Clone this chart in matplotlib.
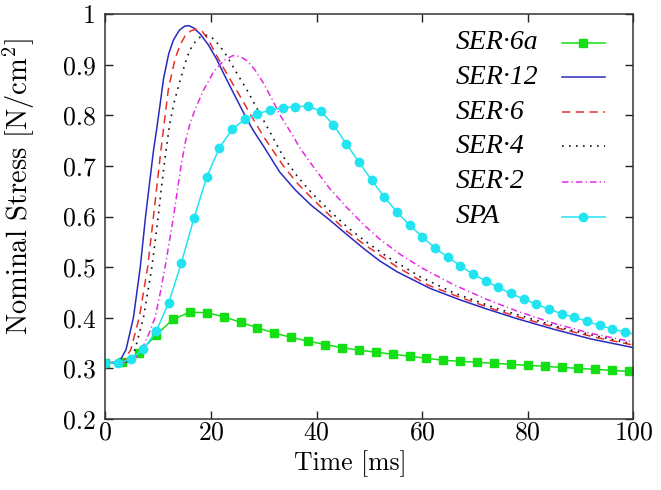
"""Nominal stress vs time — SER / SPA comparison"""

import matplotlib

matplotlib.use("Agg")

import matplotlib.pyplot as plt
from matplotlib.ticker import FormatStrFormatter

plt.rcParams["font.family"] = "cmr10"
plt.rcParams["mathtext.fontset"] = "cm"
plt.rcParams["axes.formatter.use_mathtext"] = True

# SER·12 (blue, solid)
t_ser12 = [0, 2.5, 2.9, 3.9, 5.3, 6.6, 7.6, 8.4, 9.1, 9.7, 10.4, 11.0, 12.0, 12.9,
           14.0, 15.0, 15.8, 16.8, 18.0, 19.5, 21.1, 22.6, 24.2, 26.5, 28.0, 30.0,
           33.0, 36.0, 39.0, 42.6, 46.0, 49.0, 52.0, 55.2, 61.5, 67.0, 72.0, 78.0,
           85.0, 92.0, 100.0]
v_ser12 = [0.311, 0.312, 0.318, 0.337, 0.400, 0.500, 0.600, 0.670, 0.730, 0.772,
           0.825, 0.872, 0.922, 0.949, 0.968, 0.976, 0.977, 0.972, 0.960, 0.939,
           0.910, 0.878, 0.845, 0.798, 0.770, 0.738, 0.688, 0.652, 0.622, 0.592,
           0.562, 0.536, 0.512, 0.491, 0.458, 0.436, 0.418, 0.398, 0.377, 0.358,
           0.341]

# SER·6 (red, dashed)
t_ser6 = [0, 3.2, 3.7, 4.8, 6.4, 8.0, 9.1, 9.8, 10.5, 11.2, 11.9, 13.2, 14.2, 15.1,
          16.2, 17.3, 18.3, 19.4, 20.5, 22.0, 23.5, 25.2, 27.4, 30.0, 33.7, 36.5,
          39.4, 42.6, 45.7, 49.0, 51.4, 55.0, 61.0, 67.0, 74.0, 80.0, 87.0, 93.0,
          100.0]
v_ser6 = [0.311, 0.312, 0.318, 0.337, 0.400, 0.500, 0.600, 0.665, 0.730, 0.790,
          0.850, 0.912, 0.940, 0.957, 0.967, 0.970, 0.966, 0.951, 0.929, 0.900,
          0.873, 0.843, 0.803, 0.757, 0.700, 0.664, 0.633, 0.601, 0.571, 0.545,
          0.528, 0.502, 0.465, 0.441, 0.415, 0.396, 0.376, 0.361, 0.346]

# SER·4 (black, dotted)
t_ser4 = [0, 4.0, 4.5, 5.6, 7.2, 8.8, 10.0, 10.7, 11.4, 12.2, 13.0, 13.8, 15.1, 16.0,
          17.0, 17.9, 19.0, 20.0, 21.0, 22.0, 23.0, 24.9, 26.8, 29.0, 31.0, 33.7,
          36.5, 39.4, 42.6, 45.7, 49.0, 53.3, 59.6, 66.0, 74.2, 80.0, 86.8, 93.0,
          100.0]
v_ser4 = [0.311, 0.312, 0.318, 0.337, 0.400, 0.500, 0.600, 0.665, 0.725, 0.784,
          0.825, 0.856, 0.903, 0.929, 0.945, 0.954, 0.958, 0.955, 0.945, 0.932,
          0.917, 0.883, 0.850, 0.808, 0.770, 0.718, 0.677, 0.643, 0.610, 0.580,
          0.553, 0.521, 0.481, 0.449, 0.418, 0.400, 0.379, 0.364, 0.348]

# SER·2 (magenta, dash-dot)
t_ser2 = [0, 4.5, 5.5, 7.0, 8.3, 9.4, 10.4, 11.3, 12.1, 12.9, 13.6, 14.3, 15.1, 16.0,
          17.0, 18.6, 20.5, 22.5, 24.2, 25.5, 26.8, 28.3, 29.9, 31.5, 33.1, 35.0,
          37.0, 39.4, 42.5, 45.7, 49.0, 52.0, 56.0, 60.0, 66.0, 72.3, 78.0, 84.9,
          92.0, 100.0]
v_ser2 = [0.311, 0.312, 0.318, 0.340, 0.370, 0.400, 0.450, 0.500, 0.550, 0.600,
          0.650, 0.698, 0.745, 0.783, 0.812, 0.850, 0.886, 0.909, 0.918, 0.916,
          0.908, 0.890, 0.864, 0.833, 0.800, 0.768, 0.733, 0.698, 0.655, 0.618,
          0.583, 0.555, 0.524, 0.498, 0.465, 0.436, 0.413, 0.389, 0.369, 0.352]

# SPA (cyan, circles) — sampled every 2.4 ms, line runs on to 100 ms
t_spa = [0, 2.4, 4.8, 7.2, 9.6, 12.0, 14.4, 16.8, 19.2, 21.6, 24.0, 26.4, 28.8, 31.2,
         33.6, 36.0, 38.4, 40.8, 43.2, 45.6, 48.0, 50.4, 52.8, 55.2, 57.6, 60.0,
         62.4, 64.8, 67.2, 69.6, 72.0, 74.4, 76.8, 79.2, 81.6, 84.0, 86.4, 88.8,
         91.2, 93.6, 96.0, 98.4, 100.0]
v_spa = [0.311, 0.311, 0.318, 0.338, 0.373, 0.430, 0.509, 0.598, 0.678, 0.736,
         0.772, 0.792, 0.803, 0.810, 0.815, 0.817, 0.818, 0.808, 0.781, 0.744,
         0.708, 0.672, 0.639, 0.609, 0.583, 0.560, 0.538, 0.520, 0.503, 0.486,
         0.473, 0.460, 0.448, 0.437, 0.427, 0.417, 0.408, 0.401, 0.393, 0.385,
         0.378, 0.372, 0.368]

# SER·6a (green, squares) — sampled every 3.2 ms
t_ser6a = [0, 3.2, 6.4, 9.6, 12.8, 16.0, 19.2, 22.4, 25.6, 28.8, 32.0, 35.2, 38.4,
           41.6, 44.8, 48.0, 51.2, 54.4, 57.6, 60.8, 64.0, 67.2, 70.4, 73.6, 76.8,
           80.0, 83.2, 86.4, 89.6, 92.8, 96.0, 99.2]
v_ser6a = [0.311, 0.312, 0.331, 0.366, 0.397, 0.411, 0.410, 0.402, 0.391, 0.380,
           0.370, 0.361, 0.354, 0.347, 0.341, 0.336, 0.332, 0.328, 0.324, 0.320,
           0.316, 0.314, 0.312, 0.310, 0.308, 0.306, 0.304, 0.302, 0.300, 0.298,
           0.296, 0.294]

BLUE = "#2a2ac0"
RED = "#e8302c"
BLACK = "#111111"
MAGENTA = "#e428e4"
CYAN = "#22e4f0"
GREEN = "#14de14"

fig = plt.figure(figsize=(6.61, 4.90), dpi=100)
ax = fig.add_axes([0.1595, 0.1449, 0.7987, 0.8265])

lw = 1.1
styles = [
    # label, t, v, kwargs
    ("SER·6a", t_ser6a, v_ser6a, dict(color=GREEN, lw=lw, marker="s", ms=5.2)),
    ("SER·12", t_ser12, v_ser12, dict(color=BLUE, lw=lw, ls="-")),
    ("SER·6", t_ser6, v_ser6, dict(color=RED, lw=lw, ls=(0, (5.4, 3.6)))),
    ("SER·4", t_ser4, v_ser4, dict(color=BLACK, lw=1.2, ls=(0, (1, 3.2)))),
    ("SER·2", t_ser2, v_ser2, dict(color=MAGENTA, lw=lw, ls=(0, (4.2, 2.1, 0.8, 2.1)))),
    ("SPA", t_spa, v_spa, dict(color=CYAN, lw=lw, marker="o", ms=6,
                               markevery=slice(0, len(t_spa) - 1))),
]

for label, t, v, kw in styles:
    ax.plot(t, v, **kw)

# manual key: text on the left, sample on the right, labels left aligned
x_txt, x0, x1 = 0.664, 0.864, 0.946
row_y = [0.929, 0.844, 0.758, 0.673, 0.586, 0.500]
for (label, t, v, kw), y in zip(styles, row_y):
    ax.text(x_txt, y, label, transform=ax.transAxes, ha="left", va="center",
            fontsize=20, family="Liberation Serif", style="italic")
    kw_key = {k: val for k, val in kw.items() if k != "markevery"}
    ax.plot([x0, (x0 + x1) / 2, x1], [y, y, y], transform=ax.transAxes,
            markevery=[1], clip_on=False, **kw_key)

ax.set_xlim(0, 100)
ax.set_ylim(0.2, 1.0)
ax.set_xticks([0, 20, 40, 60, 80, 100])
ax.set_yticks([0.2, 0.3, 0.4, 0.5, 0.6, 0.7, 0.8, 0.9, 1.0])
ax.yaxis.set_major_formatter(FormatStrFormatter("%g"))

ax.tick_params(direction="in", length=6, width=1.0, top=True, right=True,
               labelsize=18.5, colors="#222222", labelcolor="black")
ax.tick_params(axis="x", pad=1)
ax.tick_params(axis="y", pad=7)
for s in ax.spines.values():
    s.set_linewidth(1.1)
    s.set_color("#333333")

ax.set_xlabel("Time [ms]", fontsize=18.5)
ax.xaxis.set_label_coords(0.463, -0.078)
ax.set_ylabel("Nominal Stress [N/cm$^2$]", fontsize=20.5)
ax.yaxis.set_label_coords(-0.13, 0.573)

fig.savefig("out.png", dpi=100, facecolor="white")
plt.close(fig)
